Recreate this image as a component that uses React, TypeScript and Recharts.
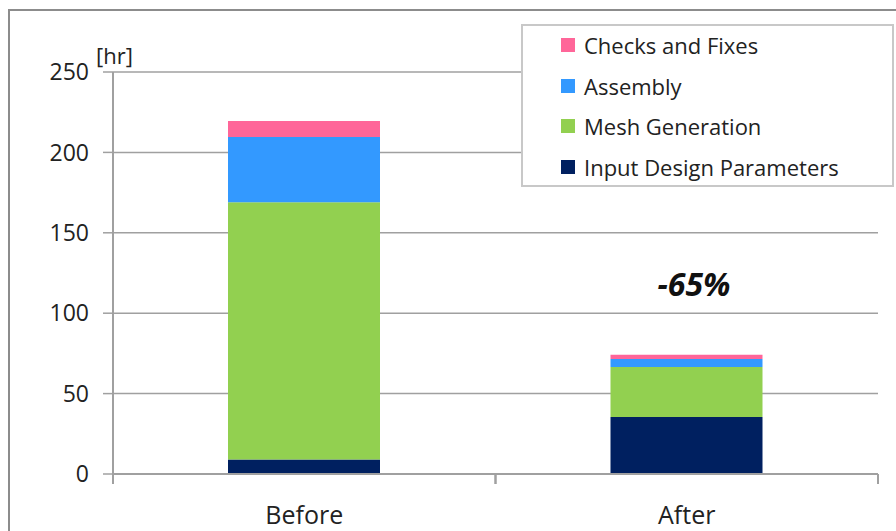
import { BarChart, Bar, XAxis, YAxis, CartesianGrid } from 'recharts';

const phases = ['Before', 'After'];
const inputDesign = [9, 35.5];
const meshGeneration = [160, 31];
const assembly = [40.5, 5];
const checksFixes = [10, 2.7];
const yTicks = [0, 50, 100, 150, 200, 250];
const reduction = '-65%';

const series = [
  { key: 'input', name: 'Input Design Parameters', color: '#002060', values: inputDesign },
  { key: 'mesh', name: 'Mesh Generation', color: '#92d050', values: meshGeneration },
  { key: 'assembly', name: 'Assembly', color: '#3399ff', values: assembly },
  { key: 'checks', name: 'Checks and Fixes', color: '#ff6699', values: checksFixes },
];

const data = phases.map((p, i) => {
  const row: any = { phase: p };
  series.forEach(s => { row[s.key] = s.values[i]; });
  return row;
});

const FONT = '"Open Sans", "Noto Sans", sans-serif';
const AXIS = '#a0a0a0';

// label at band center, tick marks at the band edges (Excel style)
const XTick = (props: any) => {
  const { x, y, payload } = props;
  const half = payload.offset || 191.25;
  return (
    <g>
      <line x1={x - half} y1={y} x2={x - half} y2={y + 10} stroke={AXIS} strokeWidth={2} />
      <line x1={x + half} y1={y} x2={x + half} y2={y + 10} stroke={AXIS} strokeWidth={2} />
      <text x={x} y={y + 50} textAnchor="middle" fontSize={25} fill="#222" fontFamily={FONT}>
        {payload.value}
      </text>
    </g>
  );
};

export default function App() {
  return (
    <div style={{ position: 'absolute', left: 0, top: 0, width: 896, height: 531, background: '#fff', overflow: 'hidden', fontFamily: FONT }}>
      <div style={{ position: 'absolute', left: 8, top: 9, width: 900, height: 540, borderLeft: '2px solid #8c8c8c', borderTop: '2px solid #8c8c8c' }} />
      <BarChart width={896} height={531} data={data} margin={{ top: 72, right: 18, bottom: 0, left: 13 }}>
        <CartesianGrid vertical={false} stroke={AXIS} strokeWidth={1.5} />
        <XAxis dataKey="phase" height={57} tickLine={false} tickSize={0} tickMargin={0}
          axisLine={{ stroke: AXIS, strokeWidth: 2 }} tick={<XTick />} interval={0} />
        <YAxis width={100} domain={[0, 250]} ticks={yTicks} interval={0} tickSize={10} tickMargin={14}
          axisLine={{ stroke: AXIS, strokeWidth: 2 }} tickLine={{ stroke: AXIS, strokeWidth: 1.5 }}
          tick={{ fontSize: 23, fill: '#222', fontFamily: FONT }} />
        {series.map(s => (
          <Bar key={s.key} dataKey={s.key} name={s.name} stackId="t" fill={s.color} barSize={152} isAnimationActive={false} />
        ))}
      </BarChart>
      <div style={{ position: 'absolute', left: 96, top: 40, fontSize: 22, color: '#222' }}>[hr]</div>
      <div style={{ position: 'absolute', left: 601, top: 262, width: 186, textAlign: 'center', fontSize: 32, fontWeight: 700, fontStyle: 'italic', color: '#111' }}>
        {reduction}
      </div>
      <div style={{ position: 'absolute', left: 521, top: 24, width: 373, height: 163, border: '2px solid #c8c8c8', background: '#fff', boxSizing: 'border-box' }}>
        {[...series].reverse().map((s, i) => (
          <div key={s.key} style={{ position: 'absolute', left: 38, top: 4 + i * 40.5, height: 30, display: 'flex', alignItems: 'center', fontSize: 22, color: '#222', whiteSpace: 'nowrap' }}>
            <span style={{ display: 'inline-block', width: 14, height: 14, background: s.color, marginRight: 9 }} />
            {s.name}
          </div>
        ))}
      </div>
    </div>
  );
}
